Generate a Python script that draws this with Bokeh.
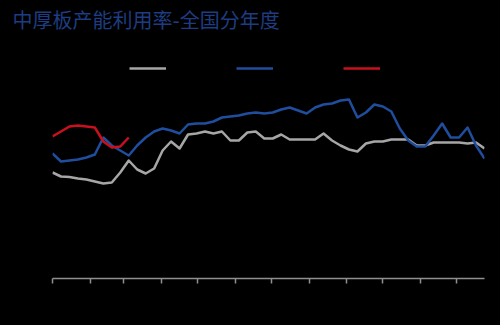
from bokeh.plotting import figure
from bokeh.models import Range1d, FixedTicker, Legend, LegendItem, CustomJSTickFormatter
from bokeh.embed import file_html
from bokeh.resources import INLINE

# day-of-year of each weekly observation
week_day = [0, 7, 14, 21, 28, 35, 42, 49, 56, 63, 70, 77, 84, 91, 98, 105, 112, 119,
            126, 133, 140, 147, 154, 161, 168, 175, 182, 189, 196, 203, 210, 217, 224,
            231, 238, 245, 252, 259, 266, 273, 280, 287, 294, 301, 308, 315, 322, 329,
            336, 343, 350, 357]
# month starts (tick positions)
month_start_day = [0, 31, 59, 90, 120, 151, 181, 212, 243, 273, 304, 334]

title_text = "中厚板产能利用率-全国分年度"

gray_vals = [66.5, 65.5, 65.4, 65, 64.75, 64.25, 63.75, 64, 66.5, 69.5,
             67.25, 66.25, 67.5, 72, 74.25, 72.5, 76, 76.25, 76.75, 76.25,
             76.75, 74.5, 74.5, 76.5, 76.75, 75, 75, 76, 74.75, 74.75,
             74.75, 74.75, 76.25, 74.5, 73.25, 72.25, 71.75, 73.75, 74.25, 74.25,
             74.75, 74.75, 74.75, 73.25, 73.25, 74, 74, 74, 74, 73.75,
             74, 72.5]
blue_vals = [71.25, 69.25, 69.5, 69.75, 70.25, 71, 75.25, 73.25, 72, 70.75,
             73.25, 75.25, 76.75, 77.5, 77, 76.25, 78.5, 78.75, 78.75, 79.25,
             80.25, 80.5, 80.75, 81.25, 81.5, 81.25, 81.5, 82.25, 82.75, 82,
             81.25, 82.75, 83.5, 83.75, 84.5, 84.75, 80.25, 81.5, 83.5, 83,
             81.75, 77.5, 74.5, 73, 73, 75.75, 78.75, 75.25, 75.25, 77.75,
             73.25, 70]
red_vals = [75.5, 76.75, 78, 78.25, 78, 77.75, 74.25, 72.75, 73, 75.25]

p = figure(width=500, height=325, output_backend="svg", toolbar_location=None,
           x_range=Range1d(0, 357), y_range=Range1d(40, 100),
           min_border_left=52, min_border_right=16, min_border_top=38,
           min_border_bottom=47)

p.background_fill_color = "black"
p.border_fill_color = "black"
p.outline_line_color = None
p.xgrid.visible = False
p.ygrid.visible = False
p.yaxis.visible = False

p.title.text = title_text
p.title.text_font = "DejaVu Sans, Noto Sans CJK SC"
p.title.text_font_size = "20px"
p.title.text_font_style = "normal"
p.title.text_color = "#1E3C82"
p.title.align = "left"
p.title.offset = -40
p.title.standoff = 12

xa = p.xaxis[0]
xa.ticker = FixedTicker(ticks=month_start_day)
xa.formatter = CustomJSTickFormatter(code="return ''")
xa.axis_line_color = "#8F8F8F"
xa.axis_line_width = 1.5
xa.major_tick_line_color = "#8F8F8F"
xa.major_tick_line_width = 1.5
xa.major_tick_in = 0
xa.major_tick_out = 5
xa.minor_tick_line_color = None

r_gray = p.line(week_day, gray_vals, line_color="#A6A6A6", line_width=2.5, line_join="round")
r_blue = p.line(week_day, blue_vals, line_color="#1F4E9E", line_width=2.5, line_join="round")
r_red = p.line(week_day[:len(red_vals)], red_vals, line_color="#C8101E", line_width=2.5, line_join="round")

legend = Legend(items=[LegendItem(label=" ", renderers=[r_gray]),
                       LegendItem(label=" ", renderers=[r_blue]),
                       LegendItem(label=" ", renderers=[r_red])],
                location=(77, 200), orientation="horizontal",
                glyph_width=37, glyph_height=20, label_width=70, label_standoff=0,
                spacing=0, padding=0, margin=0, border_line_color=None,
                background_fill_alpha=0)
p.add_layout(legend, "center")

page_template = """{% block postamble %}<style>html, body { background-color: #000000; margin: 0; }</style>{% endblock %}"""

open("out.html", "w").write(file_html(p, INLINE, template=page_template))
